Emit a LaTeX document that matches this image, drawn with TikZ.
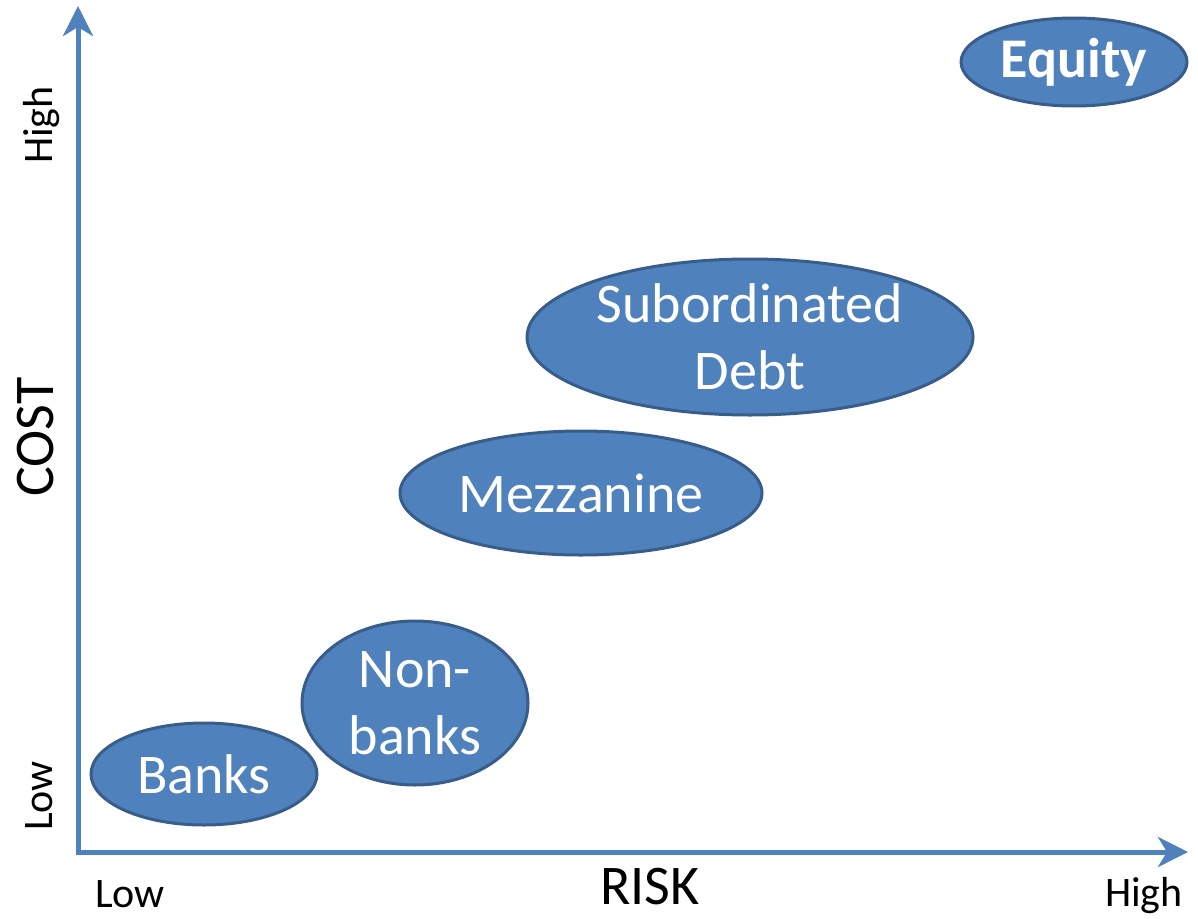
\documentclass[tikz,border=0pt]{standalone}
\usepackage{fontspec}
\setmainfont{Carlito}
\usetikzlibrary{shapes.geometric,arrows.meta}
\definecolor{blobfill}{HTML}{4F81BD}
\definecolor{blobdraw}{HTML}{385D8A}
\definecolor{axiscol}{HTML}{4F81BD}
\begin{document}
\begin{tikzpicture}[x=1pt,y=-1pt,
  blob/.style={ellipse,fill=blobfill,draw=blobdraw,line width=3pt,inner sep=0pt,
    text=white,align=center,font=\fontsize{56}{67}\selectfont},
  axisline/.style={draw=axiscol,line width=5pt,
    -{Stealth[length=30pt,width=30pt,inset=9pt]}},
  small/.style={font=\fontsize{42}{50}\selectfont,inner sep=0pt,anchor=base},
  big/.style={font=\fontsize{56}{66}\selectfont,inner sep=0pt,anchor=base}]
\useasboundingbox (0,0) rectangle (1198,918);
\coordinate (O) at (78,852);
\coordinate (ytip) at (78,6);
\coordinate (xtip) at (1188,852);
\draw[axisline] (O) -- (ytip);
\draw[axisline] ([xshift=-2.5pt]O) -- (xtip);

\node[small,rotate=90] (yhigh) at (52,125) {High};
\node[small,rotate=90] (ylow) at (52,796) {Low};
\node[big,rotate=90] (cost) at (53,437) {COST};
\node[small] (xlow) at (130,907) {Low};
\node[big] (risk) at (650,904) {RISK};
\node[small] (xhigh) at (1144,906) {High};

\node[blob,minimum width=226pt,minimum height=88pt,font=\fontsize{56}{66}\selectfont\bfseries] (equity) at (1074,62) {Equity};
\node[blob,minimum width=446pt,minimum height=156pt] (sub) at (750,337) {Subordinated\\Debt};
\node[blob,minimum width=362pt,minimum height=124pt] (mezz) at (581,493) {Mezzanine};
\node[blob,minimum width=226pt,minimum height=164pt] (nonbanks) at (415,703) {Non-\\banks};
\node[blob,minimum width=226pt,minimum height=102pt] (banks) at (204,774) {Banks};
\end{tikzpicture}
\end{document}
